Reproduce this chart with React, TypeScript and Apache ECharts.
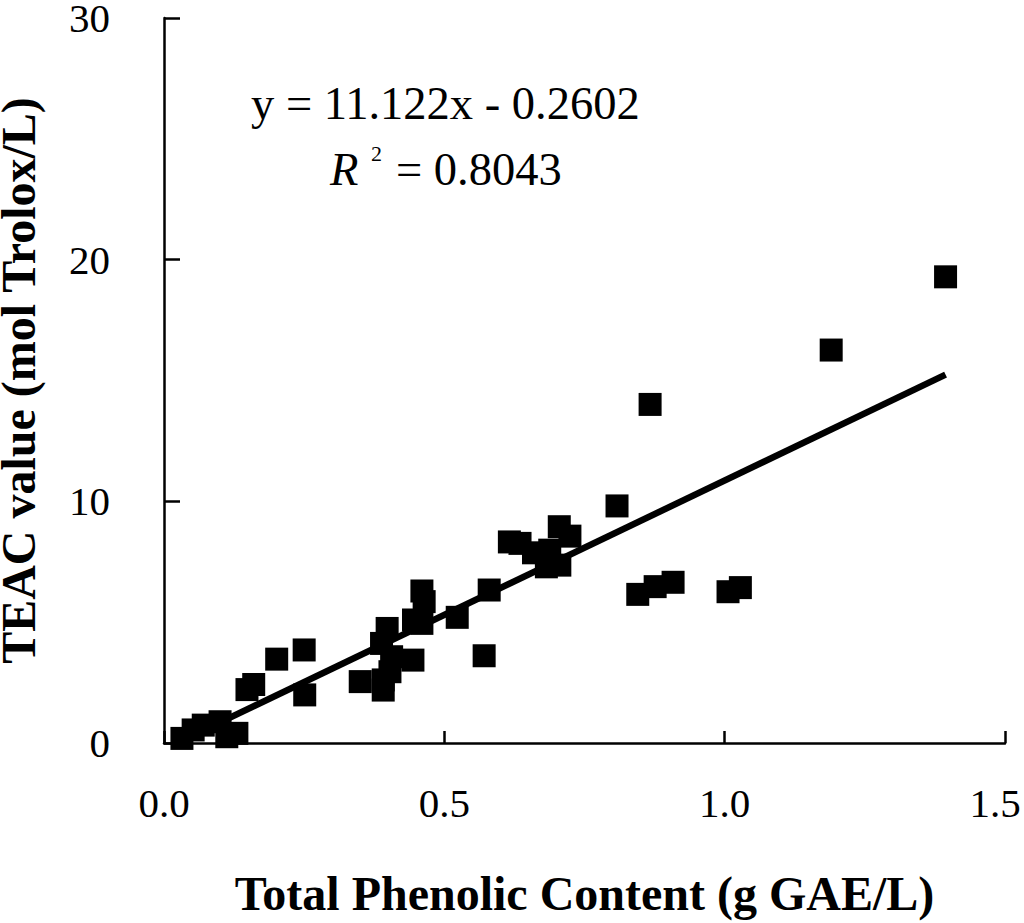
import React, { useEffect, useRef } from "react";
import * as echarts from "echarts";

const tpc = [
  1.394, 1.19, 0.867, 0.808, 0.845, 0.876, 0.908, 1.006, 1.028, 0.616, 0.635,
  0.705, 0.724, 0.659, 0.682, 0.706, 0.688, 0.58, 0.523, 0.571, 0.46, 0.464,
  0.445, 0.46, 0.398, 0.388, 0.444, 0.406, 0.391, 0.391, 0.403, 0.35, 0.25,
  0.201, 0.251, 0.148, 0.16, 0.032, 0.052, 0.07, 0.1, 0.13, 0.112,
];
const teac = [
  19.29, 16.26, 14.01, 9.81, 6.15, 6.47, 6.65, 6.26, 6.43, 8.32, 8.26, 8.95,
  8.56, 7.87, 7.29, 7.36, 7.98, 6.33, 5.2, 3.61, 6.29, 5.85, 5.09, 4.95, 4.74,
  4.12, 3.43, 3.57, 2.61, 2.19, 2.95, 2.54, 3.85, 3.47, 1.99, 2.21, 2.42, 0.19,
  0.54, 0.74, 0.88, 0.4, 0.26,
];
const slope = 11.122;
const intercept = -0.2602;
const r2 = 0.8043;
const xTicks = [0, 0.5, 1.0, 1.5];
const yTicks = [0, 10, 20, 30];

const FONT = "'Liberation Serif', 'Times New Roman', serif";

export default function App() {
  const ref = useRef<HTMLDivElement>(null);
  useEffect(() => {
    document.body.style.margin = "0";
    if (!ref.current) return;
    const chart = echarts.init(ref.current, undefined, { renderer: "svg" });
    const points = tpc.map((x, i) => [x, teac[i]]);
    const xMin = Math.min(...tpc);
    const xMax = Math.max(...tpc);
    const fit = [
      [xMin, slope * xMin + intercept],
      [xMax, slope * xMax + intercept],
    ];
    const xLast = xTicks[xTicks.length - 1];
    chart.setOption({
      animation: false,
      backgroundColor: "#fff",
      grid: {
        left: 164,
        right: 19,
        top: 18,
        bottom: 180,
        containLabel: false,
        outerBoundsMode: "none",
      },
      xAxis: {
        type: "value",
        min: xTicks[0],
        max: xLast,
        interval: 0.5,
        name: "Total Phenolic Content (g GAE/L)",
        nameLocation: "middle",
        nameGap: 128,
        nameTextStyle: {
          fontFamily: FONT,
          fontSize: 48,
          fontWeight: "bold",
          color: "#000",
          lineHeight: 44,
        },
        axisLine: { show: true, onZero: false, lineStyle: { color: "#000", width: 2.5 } },
        axisTick: { show: true, inside: true, length: 12, lineStyle: { color: "#000", width: 2.5 } },
        axisLabel: {
          fontFamily: FONT,
          fontSize: 41,
          lineHeight: 32,
          color: "#000",
          margin: 44,
          formatter: (v: number) =>
            v === xLast ? `{last|${v.toFixed(1)}}` : v.toFixed(1),
          rich: {
            last: {
              fontFamily: FONT,
              fontSize: 41,
              lineHeight: 32,
              color: "#000",
              padding: [0, 20, 0, 0],
            },
          },
        },
        splitLine: { show: false },
      },
      yAxis: {
        type: "value",
        min: yTicks[0],
        max: yTicks[yTicks.length - 1],
        interval: 10,
        name: "TEAC value (mol Trolox/L)",
        nameLocation: "middle",
        nameRotate: 90,
        nameGap: 128,
        nameTextStyle: {
          fontFamily: FONT,
          fontSize: 48,
          fontWeight: "bold",
          color: "#000",
          lineHeight: 36,
        },
        axisLine: { show: true, onZero: false, lineStyle: { color: "#000", width: 2.5 } },
        axisTick: { show: true, inside: true, length: 16, lineStyle: { color: "#000", width: 2.5 } },
        axisLabel: { fontFamily: FONT, fontSize: 41, lineHeight: 30, color: "#000", margin: 54 },
        splitLine: { show: false },
      },
      graphic: [
        {
          type: "text",
          left: 251,
          top: 80,
          style: {
            text: `y = ${slope}x - ${Math.abs(intercept)}`,
            font: `46.5px ${FONT}`,
            fill: "#000",
          },
        },
        {
          type: "text",
          left: 330,
          top: 146,
          style: { text: "R", font: `italic 46.5px ${FONT}`, fill: "#000" },
        },
        {
          type: "text",
          left: 371,
          top: 142,
          style: { text: "2", font: `22px ${FONT}`, fill: "#000" },
        },
        {
          type: "text",
          left: 396,
          top: 146,
          style: { text: `= ${r2}`, font: `46.5px ${FONT}`, fill: "#000" },
        },
      ],
      series: [
        {
          type: "line",
          data: fit,
          showSymbol: false,
          symbol: "none",
          lineStyle: { color: "#000", width: 6.5 },
          z: 2,
        },
        {
          type: "scatter",
          data: points,
          symbol: "rect",
          symbolSize: 23,
          itemStyle: { color: "#000", opacity: 1 },
          z: 3,
        },
      ],
    });
    return () => chart.dispose();
  }, []);
  return <div ref={ref} style={{ width: 1024, height: 923 }} />;
}
